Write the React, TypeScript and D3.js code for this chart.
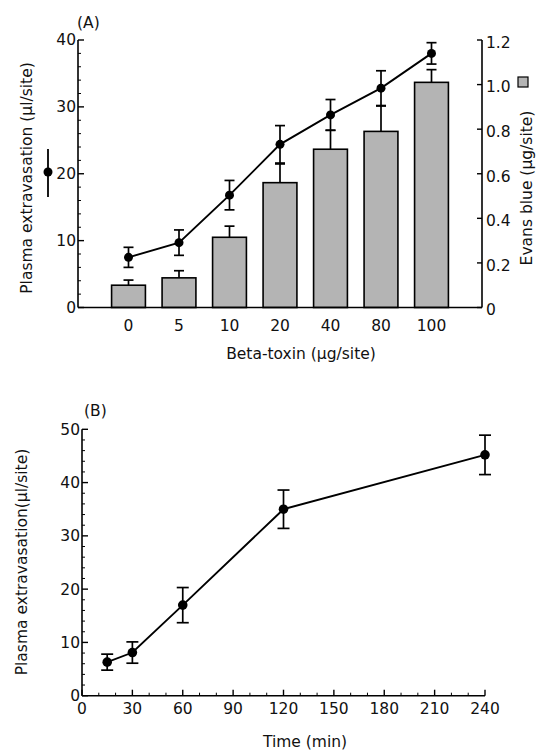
import React from "react";
import * as d3 from "d3";

const doseCategories = ["0", "5", "10", "20", "40", "80", "100"];
const plasmaMean = [7.5, 9.7, 16.8, 24.4, 28.8, 32.8, 38.0];
const plasmaErr = [1.5, 1.9, 2.2, 2.8, 2.3, 2.6, 1.6];
const evansMean = [0.1, 0.133, 0.315, 0.56, 0.71, 0.79, 1.01];
const evansErr = [0.023, 0.032, 0.05, 0.084, 0.085, 0.114, 0.057];
const leftTicksA = [0, 10, 20, 30, 40];
const rightTicksA = [0, 0.2, 0.4, 0.6, 0.8, 1.0, 1.2];
const rightTickLabelsA = ["0", "0.2", "0.4", "0.6", "0.8", "1.0", "1.2"];

const timePoints = [15, 30, 60, 120, 240];
const timeMean = [6.3, 8.1, 17.0, 35.0, 45.2];
const timeErr = [1.5, 2.0, 3.3, 3.6, 3.7];
const xTicksB = [0, 30, 60, 90, 120, 150, 180, 210, 240];
const yTicksB = [0, 10, 20, 30, 40, 50];

const FONT = "'DejaVu Sans', sans-serif";
const FS = 15.5;
const INK = "#111";

export default function App() {
  // Panel A
  const aLeft = 78, aRight = 482, aTop = 40, aBottom = 307.5;
  const xA = d3.scalePoint<string>().domain(doseCategories).range([aLeft, aRight]).padding(1);
  const yA = d3.scaleLinear().domain([0, 40]).range([aBottom, aTop]);
  const yA2 = d3.scaleLinear().domain([0, 1.2]).range([aBottom, aTop]);
  const barW = xA.step() * 0.67;
  const minorA = d3.range(0, 41, 2).filter((v) => v % 10 !== 0);
  const lineA = d3
    .line<number>()
    .x((_, i) => xA(doseCategories[i]) as number)
    .y((d) => yA(d));

  // Panel B
  const bLeft = 82, bRight = 485, bTop = 429.3, bBottom = 695.7;
  const xB = d3.scaleLinear().domain([0, 240]).range([bLeft, bRight]);
  const yB = d3.scaleLinear().domain([0, 50]).range([bBottom, bTop]);
  const minorXB = d3.range(0, 241, 10).filter((v) => v % 30 !== 0);
  const minorYB = d3.range(0, 51, 2).filter((v) => v % 10 !== 0);
  const lineB = d3
    .line<number>()
    .x((_, i) => xB(timePoints[i]))
    .y((d) => yB(d));

  const cap = 5;

  return (
    <svg width={536} height={752} style={{ position: "absolute", left: 0, top: 0 }} fontFamily={FONT} fill={INK}>
      <rect x={0} y={0} width={536} height={752} fill="#fff" />
      {/* ===== Panel A ===== */}
      <text x={77} y={28} fontSize={FS}>(A)</text>
      {/* bars */}
      {doseCategories.map((c, i) => {
        const cx = xA(c) as number;
        const top = yA2(evansMean[i]);
        const et = yA2(evansMean[i] + evansErr[i]);
        return (
          <g key={"bar" + c}>
            <line x1={cx} x2={cx} y1={top} y2={et} stroke="#000" strokeWidth={1.7} />
            <line x1={cx - cap} x2={cx + cap} y1={et} y2={et} stroke="#000" strokeWidth={1.7} />
            <rect x={cx - barW / 2} y={top} width={barW} height={aBottom - top} fill="#b4b4b4" stroke="#000" strokeWidth={1.6} />
          </g>
        );
      })}
      {/* axes */}
      <line x1={aLeft} x2={aLeft} y1={aTop} y2={aBottom} stroke="#000" strokeWidth={1.6} />
      <line x1={aRight} x2={aRight} y1={aTop} y2={aBottom} stroke="#000" strokeWidth={1.6} />
      <line x1={aLeft} x2={aRight} y1={aBottom} y2={aBottom} stroke="#000" strokeWidth={1.6} />
      {leftTicksA.map((t) => (
        <g key={"la" + t}>
          <line x1={aLeft} x2={aLeft + 6} y1={yA(t)} y2={yA(t)} stroke="#000" strokeWidth={1.4} />
          <text x={aLeft - 2} y={yA(t)} dy="0.35em" textAnchor="end" fontSize={FS}>{t}</text>
        </g>
      ))}
      {minorA.map((t) => (
        <line key={"ma" + t} x1={aLeft} x2={aLeft + 3} y1={yA(t)} y2={yA(t)} stroke="#000" strokeWidth={1} />
      ))}
      {rightTicksA.map((t, i) => (
        <g key={"ra" + t}>
          <line x1={aRight - 5} x2={aRight} y1={yA2(t)} y2={yA2(t)} stroke="#000" strokeWidth={1.4} />
          <text x={aRight + 4} y={yA2(t)} dy="0.5em" fontSize={FS}>{rightTickLabelsA[i]}</text>
        </g>
      ))}
      {doseCategories.map((c) => (
        <text key={"xl" + c} x={xA(c) as number} y={331} textAnchor="middle" fontSize={FS}>{c}</text>
      ))}
      <text x={301} y={359} textAnchor="middle" fontSize={FS}>Beta-toxin (µg/site)</text>
      <text transform={`translate(32,178) rotate(-90)`} textAnchor="middle" fontSize={FS}>Plasma extravasation (µl/site)</text>
      <text transform={`translate(532,188) rotate(-90)`} textAnchor="middle" fontSize={FS}>Evans blue (µg/site)</text>
      {/* legends */}
      <line x1={48} x2={48} y1={149} y2={197} stroke="#000" strokeWidth={1.8} />
      <circle cx={48} cy={172} r={4.5} fill="#000" />
      <rect x={518} y={77} width={10} height={10} fill="#b4b4b4" stroke="#000" strokeWidth={1.2} />
      {/* line */}
      <path d={lineA(plasmaMean) ?? ""} fill="none" stroke="#000" strokeWidth={1.9} />
      {doseCategories.map((c, i) => {
        const cx = xA(c) as number;
        const hi = yA(plasmaMean[i] + plasmaErr[i]);
        const lo = yA(plasmaMean[i] - plasmaErr[i]);
        return (
          <g key={"pt" + c}>
            <line x1={cx} x2={cx} y1={hi} y2={lo} stroke="#000" strokeWidth={1.7} />
            <line x1={cx - cap} x2={cx + cap} y1={hi} y2={hi} stroke="#000" strokeWidth={1.7} />
            <line x1={cx - cap} x2={cx + cap} y1={lo} y2={lo} stroke="#000" strokeWidth={1.7} />
            <circle cx={cx} cy={yA(plasmaMean[i])} r={4.5} fill="#000" />
          </g>
        );
      })}

      {/* ===== Panel B ===== */}
      <text x={84} y={416} fontSize={FS}>(B)</text>
      <line x1={bLeft} x2={bLeft} y1={bTop} y2={bBottom} stroke="#000" strokeWidth={1.6} />
      <line x1={bLeft} x2={bRight} y1={bBottom} y2={bBottom} stroke="#000" strokeWidth={1.6} />
      {yTicksB.map((t) => (
        <g key={"yb" + t}>
          <line x1={bLeft} x2={bLeft + 6} y1={yB(t)} y2={yB(t)} stroke="#000" strokeWidth={1.4} />
          <text x={bLeft - 2} y={yB(t)} dy="0.35em" textAnchor="end" fontSize={FS}>{t}</text>
        </g>
      ))}
      {minorYB.map((t) => (
        <line key={"myb" + t} x1={bLeft} x2={bLeft + 3} y1={yB(t)} y2={yB(t)} stroke="#000" strokeWidth={1} />
      ))}
      {xTicksB.map((t) => (
        <g key={"xb" + t}>
          <line x1={xB(t)} x2={xB(t)} y1={bBottom} y2={bBottom - 6} stroke="#000" strokeWidth={1.4} />
          <text x={xB(t)} y={714} textAnchor="middle" fontSize={FS}>{t}</text>
        </g>
      ))}
      {minorXB.map((t) => (
        <line key={"mxb" + t} x1={xB(t)} x2={xB(t)} y1={bBottom} y2={bBottom - 3} stroke="#000" strokeWidth={1} />
      ))}
      <text x={305} y={747} textAnchor="middle" fontSize={FS}>Time (min)</text>
      <text transform={`translate(27,562) rotate(-90)`} textAnchor="middle" fontSize={FS}>Plasma extravasation(µl/site)</text>
      <path d={lineB(timeMean) ?? ""} fill="none" stroke="#000" strokeWidth={1.9} />
      {timePoints.map((t, i) => {
        const cx = xB(t);
        const hi = yB(timeMean[i] + timeErr[i]);
        const lo = yB(timeMean[i] - timeErr[i]);
        return (
          <g key={"tb" + t}>
            <line x1={cx} x2={cx} y1={hi} y2={lo} stroke="#000" strokeWidth={1.7} />
            <line x1={cx - 6} x2={cx + 6} y1={hi} y2={hi} stroke="#000" strokeWidth={1.7} />
            <line x1={cx - 6} x2={cx + 6} y1={lo} y2={lo} stroke="#000" strokeWidth={1.7} />
            <circle cx={cx} cy={yB(timeMean[i])} r={4.8} fill="#000" />
          </g>
        );
      })}
    </svg>
  );
}
